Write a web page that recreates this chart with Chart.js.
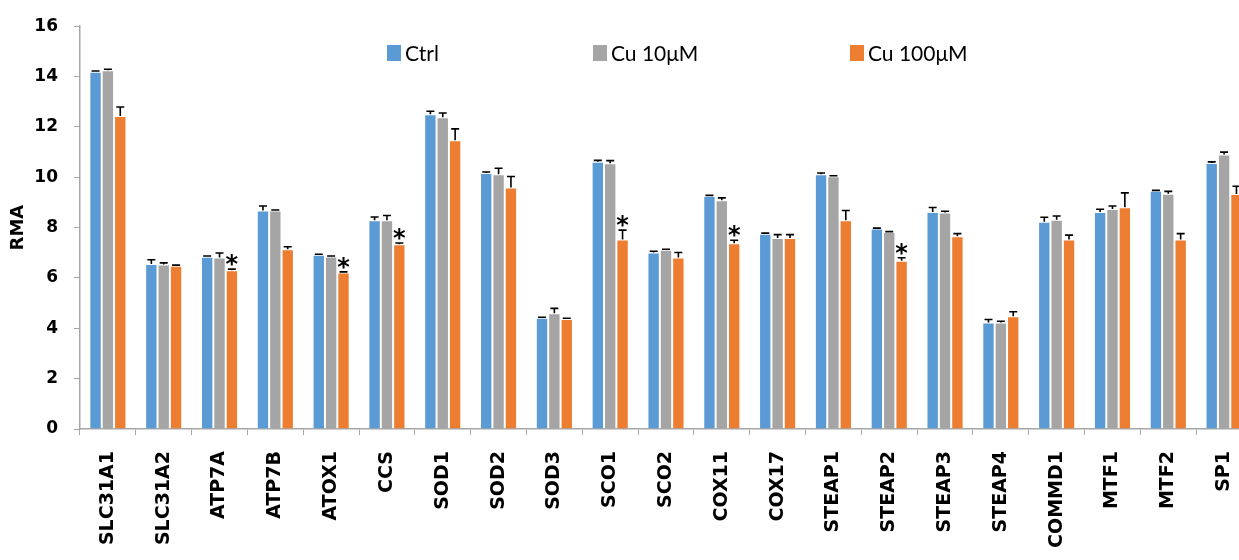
<!DOCTYPE html>
<html>
<head>
<meta charset="utf-8">
<script src="https://cdn.jsdelivr.net/npm/chart.js@4"></script>
<style>
  html, body { margin: 0; padding: 0; background: #fff; overflow: hidden; }
  #wrap { width: 1239px; height: 560px; overflow: hidden; }
</style>
</head>
<body>
<div id="wrap"><canvas id="chart" width="1252" height="560"></canvas></div>
<script>
// genes on the x axis
const genes = ['SLC31A1', 'SLC31A2', 'ATP7A', 'ATP7B', 'ATOX1', 'CCS', 'SOD1', 'SOD2', 'SOD3', 'SCO1', 'SCO2',
	'COX11', 'COX17', 'STEAP1', 'STEAP2', 'STEAP3', 'STEAP4', 'COMMD1', 'MTF1', 'MTF2', 'SP1'];
// series names
const seriesNames = ['Ctrl', 'Cu 10\u03bcM', 'Cu 100\u03bcM'];
// mean RMA values
const ctrl = [14.19, 6.55, 6.84, 8.68, 6.92, 8.29, 12.5, 10.17, 4.42, 10.62, 7.01, 9.26, 7.76, 10.12, 7.96, 8.62, 4.23, 8.23, 8.62, 9.46, 10.57];
const cu10 = [14.25, 6.53, 6.81, 8.68, 6.85, 8.29, 12.38, 10.12, 4.6, 10.56, 7.12, 9.09, 7.59, 10.04, 7.83, 8.6, 4.23, 8.31, 8.74, 9.34, 10.9];
const cu100 = [12.43, 6.48, 6.31, 7.14, 6.22, 7.34, 11.47, 9.59, 4.37, 7.53, 6.81, 7.38, 7.59, 8.29, 6.68, 7.66, 4.48, 7.53, 8.81, 7.53, 9.33];
// upper error bars
const ctrlErr = [0.03, 0.17, 0.03, 0.18, 0.02, 0.13, 0.12, 0.04, 0.02, 0.05, 0.05, 0.02, 0.02, 0.05, 0.02, 0.18, 0.12, 0.18, 0.11, 0.02, 0.04];
const cu10Err = [0.04, 0.07, 0.18, 0.02, 0.02, 0.19, 0.17, 0.24, 0.19, 0.1, 0.02, 0.09, 0.13, 0.02, 0.01, 0.05, 0.05, 0.15, 0.12, 0.1, 0.1];
const cu100Err = [0.36, 0.03, 0.04, 0.1, 0.02, 0.05, 0.45, 0.44, 0.03, 0.37, 0.2, 0.12, 0.13, 0.39, 0.12, 0.1, 0.18, 0.17, 0.57, 0.23, 0.31];
// significance stars on the Cu 100uM bars
const cu100Sig = [false, false, true, false, true, true, false, false, false, true, false, true, false, false, true, false, false, false, false, false, false];
// y axis
const yTicks = [0, 2, 4, 6, 8, 10, 12, 14, 16];

const colors = ['#5B9BD5', '#A5A5A5', '#ED7D31'];
const errors = [ctrlErr, cu10Err, cu100Err];
const stars = [null, null, cu100Sig];

// error bars (upper only) and stars
const errorBars = {
	id: 'errorBars',
	afterDatasetsDraw(chart) {
		const ctx = chart.ctx;
		const y = chart.scales.y;
		ctx.save();
		chart.data.datasets.forEach((ds, i) => {
			const meta = chart.getDatasetMeta(i);
			meta.data.forEach((bar, j) => {
				const top = y.getPixelForValue(ds.data[j]);
				const errTop = y.getPixelForValue(ds.data[j] + errors[i][j]);
				ctx.strokeStyle = '#000';
				ctx.lineWidth = 1.6;
				ctx.beginPath();
				ctx.moveTo(bar.x, top);
				ctx.lineTo(bar.x, errTop);
				ctx.moveTo(bar.x - 4, errTop);
				ctx.lineTo(bar.x + 4, errTop);
				ctx.stroke();
				if (stars[i] && stars[i][j]) {
					ctx.font = 'bold 24px "DejaVu Sans"';
					ctx.fillStyle = '#000';
					ctx.textAlign = 'center';
					ctx.textBaseline = 'alphabetic';
					const m = ctx.measureText('*');
					ctx.fillText('*', bar.x, errTop - 3 - m.actualBoundingBoxDescent);
				}
			});
		});
		ctx.restore();
	},
};

// legend placed inside the plot like the original
const legendX = [387, 593, 850];
const sideLegend = {
	id: 'sideLegend',
	afterDraw(chart) {
		const ctx = chart.ctx;
		ctx.save();
		ctx.font = '21px Lato';
		ctx.textBaseline = 'alphabetic';
		ctx.textAlign = 'left';
		chart.data.datasets.forEach((ds, i) => {
			ctx.fillStyle = ds.backgroundColor;
			ctx.fillRect(legendX[i], 45, 14, 16);
			ctx.fillStyle = '#000';
			ctx.fillText(ds.label, legendX[i] + 18, 61);
		});
		ctx.restore();
	},
};

new Chart(document.getElementById('chart'), {
	type: 'bar',
	plugins: [errorBars, sideLegend],
	data: {
		labels: genes,
		datasets: [ctrl, cu10, cu100].map((d, i) => ({
			label: seriesNames[i],
			data: d,
			backgroundColor: colors[i],
			borderColor: 'rgba(255,255,255,0.55)',
			borderWidth: 1,
			categoryPercentage: 0.665,
			barPercentage: 1.0,
		})),
	},
	options: {
		responsive: false,
		animation: false,
		layout: { padding: { top: 21, right: 0, left: 0, bottom: 0 } },
		plugins: {
			legend: { display: false },
			tooltip: { enabled: false },
		},
		scales: {
			x: {
				grid: { display: true, drawOnChartArea: false, color: '#A6A6A6', tickLength: 6, offset: true },
				border: { color: '#A6A6A6', width: 1.5 },
				ticks: {
					color: '#000',
					font: { family: '"DejaVu Sans"', weight: 'bold', size: 19 },
					minRotation: 90,
					maxRotation: 90,
					autoSkip: false,
					padding: 16,
				},
				afterFit(scale) {
					scale.height = 131;
					scale.paddingLeft = 0;
					scale.paddingRight = 0;
				},
			},
			y: {
				min: 0,
				max: 16,
				afterBuildTicks(scale) {
					scale.ticks = yTicks.map((v) => ({ value: v }));
				},
				grid: { display: true, drawOnChartArea: false, color: '#A6A6A6', tickLength: 6 },
				border: { color: '#A6A6A6', width: 1.5 },
				ticks: {
					color: '#000',
					font: { family: '"DejaVu Sans"', weight: 'bold', size: 17 },
					padding: 16,
				},
				title: {
					display: true,
					text: 'RMA',
					color: '#000',
					font: { family: '"DejaVu Sans"', weight: 'bold', size: 18 },
					padding: { top: 8, bottom: 0 },
				},
				afterFit(scale) {
					scale.width = 80;
				},
			},
		},
	},
});
</script>
</body>
</html>
